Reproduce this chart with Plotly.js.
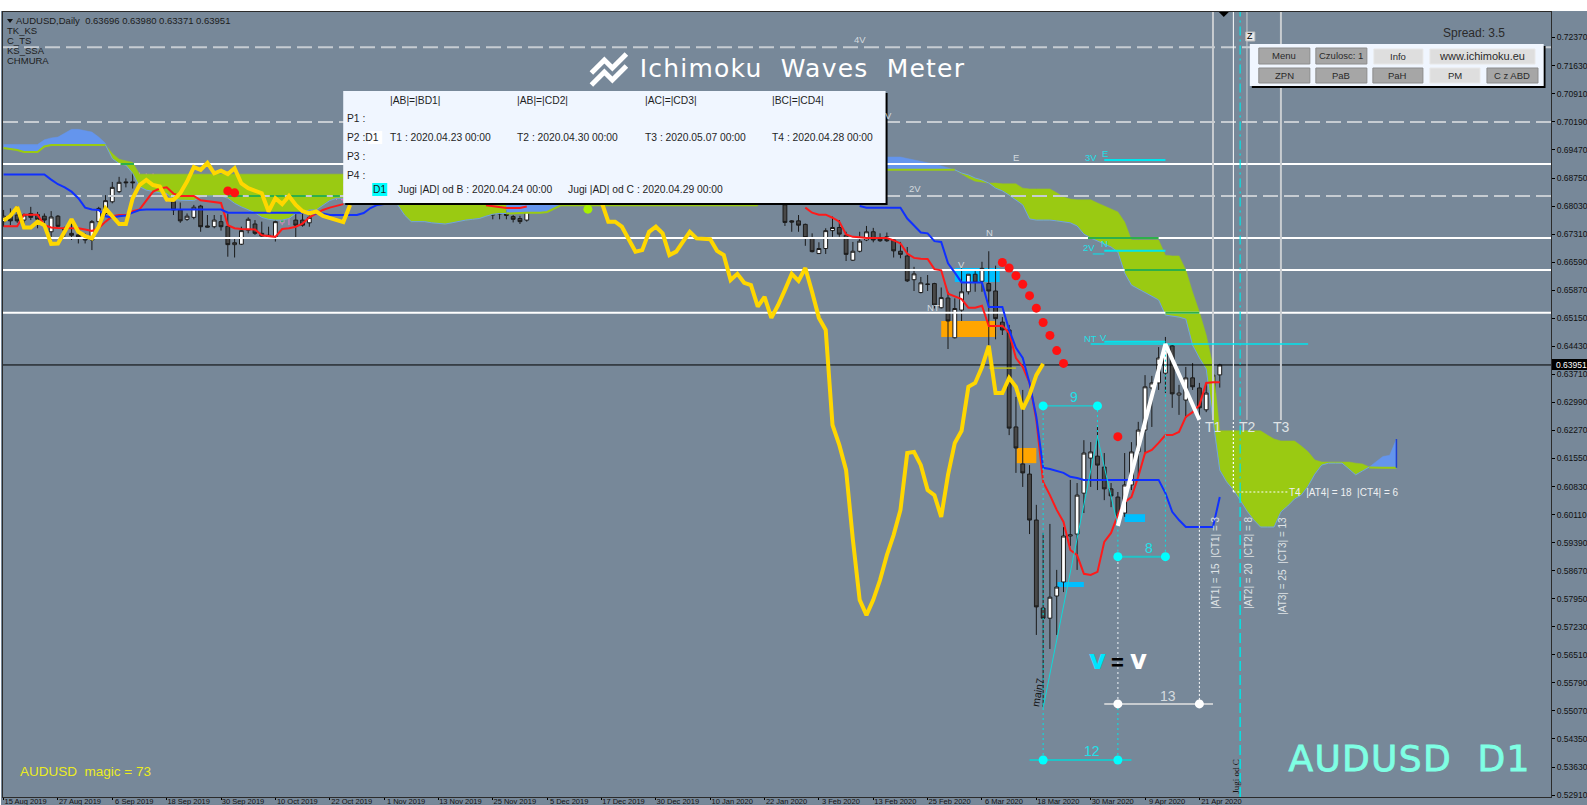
<!DOCTYPE html>
<html><head><meta charset="utf-8">
<script src="https://cdn.plot.ly/plotly-3.0.1.min.js"></script>
<style>html,body{margin:0;padding:0;background:#fff;overflow:hidden}
#c{position:absolute;left:1px;top:11px;width:1586px;height:794px}</style></head>
<body><div id="c"></div>
<script>
// ---- axis labels
const priceTicks=[0.7237,0.7163,0.7091,0.7019,0.6947,0.6875,0.6803,0.6731,0.6659,0.6587,0.6515,0.6443,0.6371,0.6299,0.6227,0.6155,0.6083,0.6011,0.5939,0.5867,0.5795,0.5723,0.5651,0.5579,0.5507,0.5435,0.5363,0.5291];
const dateTicks=['15 Aug 2019','27 Aug 2019','6 Sep 2019','18 Sep 2019','30 Sep 2019','10 Oct 2019','22 Oct 2019','1 Nov 2019','13 Nov 2019','25 Nov 2019','5 Dec 2019','17 Dec 2019','30 Dec 2019','10 Jan 2020','22 Jan 2020','3 Feb 2020','13 Feb 2020','25 Feb 2020','6 Mar 2020','18 Mar 2020','30 Mar 2020','9 Apr 2020','21 Apr 2020'];
const seq=(a,b)=>{const r=[];for(let i=a;i<=b;i++)r.push(i);return r;};

// ---- candles (bar number, open, high, low, close)
const barX=[...seq(0,19),...seq(25,40),43,44,45,...seq(65,77),...seq(115,179)];
const barO=[.6763,.6777,.6780,.6767,.6784,.6781,.6777,.6737,.6777,.6746,.6733,.6729,.6724,.6716,.6763,.6784,.6814,.6840,.6865,.6865,
.6814,.6793,.6769,.6774,.6803,.6752,.6750,.6763,.6751,.6704,.6705,.6741,.6757,.6733,.6728,.6724,.6767,.6767,.6760,
.6825,.6789,.6825,.6815,.6820,.6803,.6815,.6791,.6786,.6786,.6776,.6771,.6767,
.6806,.6765,.6765,.6756,.6722,.6681,.6694,.6740,.6748,.6728,.6664,.6687,.6716,.6737,.6721,.6724,.6716,.6687,.6675,.6614,.6581,.6603,.6604,.6542,.6567,.6465,.6536,.6583,.6628,.6610,.6604,.6585,
.6505,.6485,.6236,.6141,.6115,.5997,.5771,.5745,.5802,.5838,.5956,.5961,.6066,.6156,.6161,.6133,.6077,.6056,.6015,.6087,.6172,.6228,.6336,.6349,.6374,.6444,.6318,.6305,.6362,.6336,.6280,.6323,.63696];
const barH=[.6793,.6797,.6803,.6784,.6801,.6788,.6784,.6790,.6780,.6750,.6767,.6737,.6733,.6767,.6801,.6831,.6865,.6878,.6874,.6889,
.6823,.6812,.6784,.6806,.6806,.6780,.6780,.6780,.6784,.6720,.6750,.6774,.6767,.6763,.6750,.6775,.6784,.6784,.6780,
.6830,.6825,.6830,.6825,.6825,.6815,.6820,.6801,.6797,.6793,.6780,.6778,.6815,
.6815,.6767,.6780,.6758,.6733,.6710,.6746,.6776,.6767,.6737,.6711,.6737,.6752,.6747,.6733,.6735,.6721,.6711,.6698,.6647,.6621,.6626,.6606,.6594,.6583,.6566,.6643,.6628,.6636,.6660,.6687,.6650,
.6518,.6498,.6313,.6331,.6138,.6036,.5964,.5987,.5869,.5979,.6100,.6092,.6202,.6197,.6236,.6169,.6092,.6069,.6169,.6197,.6249,.6369,.6367,.6441,.6467,.6446,.6344,.6390,.6400,.6349,.6349,.6408,.63980];
const barL=[.6750,.6754,.6760,.6754,.6767,.6746,.6750,.6712,.6750,.6724,.6716,.6707,.6707,.6690,.6754,.6775,.6810,.6836,.6851,.6848,
.6780,.6760,.6765,.6769,.6737,.6748,.6746,.6740,.6673,.6671,.6703,.6733,.6729,.6723,.6723,.6712,.6723,.6750,.6750,
.6793,.6789,.6801,.6789,.6800,.6789,.6789,.6769,.6769,.6769,.6761,.6757,.6763,
.6752,.6737,.6737,.6701,.6684,.6680,.6680,.6724,.6724,.6662,.6662,.6684,.6713,.6710,.6711,.6711,.6671,.6669,.6608,.6585,.6579,.6585,.6540,.6540,.6436,.6463,.6508,.6576,.6583,.6583,.6446,.6461,
.6472,.6215,.6118,.6082,.5961,.5702,.5517,.5666,.5702,.5812,.5930,.5869,.6015,.6082,.6074,.6048,.6030,.6005,.6005,.6074,.6108,.6169,.6236,.6331,.6323,.6285,.6267,.6259,.6331,.6262,.6274,.6280,.63371];
const barC=[.6777,.6765,.6765,.6780,.6774,.6769,.6767,.6775,.6751,.6741,.6728,.6724,.6716,.6763,.6797,.6817,.6851,.6864,.6863,.6863,
.6793,.6765,.6777,.6800,.6750,.6749,.6767,.6750,.6704,.6709,.6740,.6769,.6733,.6726,.6724,.6763,.6754,.6754,.6774,
.6793,.6820,.6801,.6810,.6810,.6791,.6808,.6780,.6783,.6779,.6769,.6763,.6805,
.6761,.6762,.6754,.6722,.6686,.6694,.6740,.6748,.6731,.6679,.6687,.6713,.6737,.6716,.6714,.6714,.6688,.6679,.6611,.6629,.6606,.6602,.6549,.6568,.6508,.6540,.6583,.6628,.6607,.6643,.6585,.6514,
.6485,.6233,.6182,.6118,.5997,.5774,.5745,.5799,.5825,.5956,.5959,.6061,.6169,.6172,.6138,.6077,.6059,.6007,.6087,.6172,.6228,.6339,.6349,.6413,.6446,.6321,.6323,.6362,.6339,.6285,.6323,.6369,.63951];
// signal-coloured candles
const magX=[20,21,22,23,24,42,48,49,50];
const magO=[.6870,.6870,.6870,.6868,.6865,.6777,.6857,.6848,.6855];
const magH=[.6889,.6887,.6887,.6874,.6870,.6797,.6880,.6865,.6861];
const magL=[.6857,.6861,.6857,.6857,.6814,.6754,.6854,.6819,.6814];
const magC=[.6864,.6878,.6865,.6866,.6836,.6788,.6870,.6844,.6819];
const grnX=[41,45,46,47];
const grnO=[.6760,.6790,.6823,.6846];
const grnH=[.6806,.6835,.6865,.6880];
const grnL=[.6754,.6780,.6819,.6844];
const grnC=[.6793,.6827,.6857,.6870];

// ---- lines
const redLeft=[.6751,.6751,.6751,.6781,.6781,.6781,.6754,.6748,.6747,.6747,.6747,.6746,.6743,.6739,.6746,.6763,.6777,.6780,.6780,.6790,.6794,.6818,.6840,.6848,.6851,.6835,.6829,.6829,.6829,.6818,.6816,.6814,.6811,.6754,.6746,.6744,.6743,.6743,.6728,.6726,.6724,.6744,.6746,.6750,.6758,.6774,.6784,.6793,.6799,.6803,.6808];
const redMid=[.6805,.6803,.6800,.6798,.6798,.6798,.6802];
const redRight=[.6799,.6786,.6781,.6781,.6773,.6763,.6730,.6724,.6723,.6721,.6721,.6721,.6721,.6715,.6707,.6681,.6670,.6668,.6667,.6641,.6638,.6578,.6572,.6564,.6542,.6542,.6547,.6495,.6495,.6496,.6477,.6413,.6390,.6349,.6254,.6095,.6061,.6023,.5992,.5920,.5907,.5859,.5856,.5864,.5941,.5964,.6010,.6043,.6056,.6108,.6169,.6177,.6195,.6215,.6215,.6223,.6262,.6274,.6292,.6349,.6351,.6351];
const blueLeft=[.6884,.6884,.6884,.6884,.6884,.6884,.6884,.6871,.6859,.6851,.6840,.6823,.6799,.6794,.6793,.6777,.6774,.6777,.6779,.6786,.6793,.6794,.6794,.6794,.6794,.6794,.6794,.6794,.6794,.6794,.6794,.6794,.6794,.6786,.6786,.6786,.6786,.6786,.6786,.6786,.6786,.6786,.6786,.6786,.6786,.6784,.6784,.6784,.6780,.6780,.6780,.6780,.6780,.6785,.6798,.6806,.6808];
const blueRight=[.6803,.6799,.6799,.6799,.6799,.6799,.6799,.6771,.6754,.6735,.6733,.6713,.6711,.6656,.6632,.6607,.6607,.6607,.6607,.6544,.6544,.6544,.6485,.6439,.6413,.6349,.6262,.6131,.6128,.6123,.6118,.6108,.6105,.6100,.6100,.6100,.6100,.6100,.6100,.6100,.6100,.6100,.6100,.6100,.6100,.6066,.6018,.5997,.5979,.5979,.5979,.5979,.5979,.6056];
const chikouLeft=[.6766,.6778,.6800,.6748,.6748,.6763,.6754,.6706,.6707,.6737,.6769,.6737,.6726,.6720,.6750,.6797,.6778,.6757,.6757,.6823,.6857,.6870,.6857,.6853,.6820,.6819,.6836,.6866,.6903,.6896,.6914,.6887,.6894,.6885,.6900,.6861,.6849,.6843,.6836,.6789,.6823,.6808,.6829,.6806,.6790,.6784,.6789,.6778,.6772,.6767,.6762,.6806];
const chikouRight=[.6850,.6814,.6763,.6763,.6750,.6720,.6686,.6690,.6737,.6750,.6733,.6677,.6686,.6712,.6737,.6720,.6718,.6718,.6688,.6677,.6613,.6629,.6606,.6600,.6545,.6570,.6516,.6549,.6588,.6629,.6611,.6644,.6582,.6516,.6485,.6241,.6190,.6125,.5946,.5792,.5753,.5792,.5843,.5907,.5959,.6023,.6169,.6172,.6138,.6074,.6061,.6005,.6113,.6195,.6226,.6339,.6349,.6390,.6444,.6323,.6323,.6362,.6339,.6282,.6318,.6369,.6398];

// ---- cloud
const cloudBlue1Up=[.6961,.6961,.6961,.6961,.6961,.6961,.6973,.6978,.6980,.6991,.7000,.7000,.6996,.6993,.6980,.6964];
const cloudBlue1Lo=[.6952,.6949,.6947,.6942,.6942,.6942,.6956,.6960,.6960,.6960,.6960,.6960,.6960,.6960,.6960,.6960];
const cloudGreen1Up=[.6960,.6938,.6923,.6918,.6915,.6885,.6885,.6885,.6885,.6885,.6885,.6885,.6885,.6885,.6885,.6885,.6885,.6885,.6885,.6885,.6885,.6885,.6885,.6885,.6885,.6885,.6885,.6885,.6885,.6885,.6885,.6885,.6885,.6885,.6885,.6885];
const cloudGreen1Lo=[.6960,.6925,.6912,.6908,.6887,.6853,.6844,.6840,.6837,.6835,.6820,.6818,.6817,.6817,.6827,.6829,.6829,.6829,.6823,.6810,.6801,.6793,.6786,.6774,.6769,.6767,.6767,.6771,.6784,.6786,.6793,.6793,.6805,.6817,.6823,.6823];
const cloudGreen2Lo=[.6806,.6780,.6763,.6763,.6763,.6760,.6758,.6757,.6760,.6764,.6767,.6769,.6771,.6777,.6782,.6784,.6784];
const cloudBlue2Lo=[.6784,.6785,.6786,.6786,.6786,.6786,.6788,.6797,.6805];
const cloudHiddenTop=0.6812;
const cloudThinLo=0.6803;
const cloudBlue3Up=[.6929,.6929,.6929,.6929,.6929,.6925,.6921,.6918,.6914,.6911,.6906,.6901,.6896];
const cloudBlue3Lo=0.6896;
const cloudGreen3Up=[.6896,.6885,.6875,.6867,.6865,.6862,.6862,.6860,.6860,.6860,.6849,.6847,.6847,.6847,.6847,.6837,.6826,.6821,.6819,.6819,.6819,.6811,.6803,.6795,.6788,.6762,.6716,.6716,.6716,.6716,.6716,.6677,.6675,.6675,.6639,.6582,.6531,.6472,.6392,.6226,.6226,.6226,.6226,.6226,.6226,.6226,.6215,.6205,.6200,.6200,.6200,.6187,.6172,.6151,.6146,.6146,.6146,.6146,.6146,.6143,.6141,.6133];
const cloudGreen3Lo=[.6896,.6888,.6883,.6875,.6870,.6862,.6849,.6842,.6831,.6819,.6806,.6770,.6767,.6767,.6767,.6765,.6762,.6760,.6752,.6731,.6721,.6713,.6706,.6698,.6685,.6631,.6600,.6590,.6580,.6572,.6562,.6523,.6521,.6518,.6513,.6446,.6413,.6385,.6254,.6125,.6095,.6074,.6048,.6020,.5997,.5979,.5979,.5979,.6018,.6033,.6051,.6061,.6084,.6115,.6138,.6143,.6143,.6143,.6128,.6113,.6123,.6133];
const cloudBlue4Up=[.6133,.6146,.6160,.6163,.6205];
const cloudBlue4Lo=[.6132,.6131,.6131,.6131,.6131];

// ---- levels and markers
const solidLevels=[.6911,.6721,.6639,.6529];
const dashedLevels=[.7211,.7019,.6829];
const lastPrice=0.63951;
const redDotX=[33,34,147,148,149,150,151,152,153,154,155,156,164];
const redDotY=[.6842,.6837,.6658,.6644,.6624,.6602,.6573,.6541,.6504,.6471,.6432,.6399,.6211];
const limeDotX=[86], limeDotY=[.6795];
const zoneBlue=[[140,146.6,.6608,.6644],[165,168,.5992,.6012],[155.1,159,.5825,.5838]];
const zoneOrange=[[138,146.1,.6467,.6508],[149.1,152,.6143,.6182]];
const waveX=[164,171,176], waveY=[.5982,.6449,.6254];
const mainX=[153,161,164], mainY=[.5515,.6210,.5982];

// ---- plot geometry
const L=3,R=1550,T=12,B=797;
const xr=[-0.088,227.75], yr=[0.52860,0.73012];
const X=p=>(p-L)/(R-L), Y=p=>(B-p)/(B-T);
const TOP=yr[1], BOT=yr[0];

const traces=[], shapes=[], ann=[];
const line=(x,y,color,width,dash)=>traces.push({type:'scatter',mode:'lines',x,y,line:{color,width,dash:dash||'solid',shape:'linear'},hoverinfo:'skip'});
const poly=(xs,up,lo,fill,edge)=>{
  const xx=[...xs,...xs.slice().reverse()], yy=[...up,...lo.slice().reverse()];
  traces.push({type:'scatter',mode:'lines',x:xx,y:yy,fill:'toself',fillcolor:fill,line:{color:fill,width:0.5},hoverinfo:'skip'});
  if(edge) traces.push({type:'scatter',mode:'lines',x:xs,y:lo,line:{color:edge,width:1},hoverinfo:'skip'});
};
const GREEN='#9aca12', BLUE='#6495ed', EDGE='#6f9fe8';
const fillN=(n,v)=>Array(n).fill(v);

// cloud
poly(seq(0,15),cloudBlue1Up,cloudBlue1Lo,BLUE);
line(seq(0,15),cloudBlue1Lo,GREEN,2);
poly(seq(15,50),cloudGreen1Up,cloudGreen1Lo,GREEN,EDGE);
poly(seq(58,74),fillN(17,cloudHiddenTop),cloudGreen2Lo,GREEN,EDGE);
poly(seq(74,82),fillN(9,cloudHiddenTop),cloudBlue2Lo,BLUE);
line(seq(74,82),cloudBlue2Lo,GREEN,2);
poly(seq(82,111),fillN(30,cloudHiddenTop),fillN(30,cloudThinLo),GREEN);
poly(seq(128,140),cloudBlue3Up,fillN(13,cloudBlue3Lo),BLUE);
line(seq(128,140),fillN(13,cloudBlue3Lo),GREEN,2);
poly(seq(140,201),cloudGreen3Up,cloudGreen3Lo,GREEN,EDGE);
poly(seq(201,205),cloudBlue4Up,cloudBlue4Lo,BLUE);
line(seq(201,205),cloudBlue4Lo,GREEN,2);
line([205,205],[cloudBlue4Lo[4],cloudBlue4Up[4]],'#1f3fd0',1.5);

// horizontal levels
dashedLevels.forEach(v=>line(xr,[v,v],'#c6ccd2',2,'15px,6px'));
solidLevels.forEach(v=>line(xr,[v,v],'#ffffff',2));
// levels seen through the cloud
const DG='#2db04a';
line([17.2,19.2],[.6911,.6911],DG,2);
line([33,49.5],[.6829,.6829],DG,2,'15px,6px');
line([159.6,170],[.6721,.6721],DG,2);
line([165,174],[.6639,.6639],DG,2);
line([171,176],[.6529,.6529],DG,2);
// last price
line(xr,[lastPrice,lastPrice],'#000000',1);

// vertical time lines
line([178,178],[.6254,TOP],'#c8ccd0',2);
line([183,183],[.6254,TOP],'#c8ccd0',1);
line([188,188],[.6254,TOP],'#c8ccd0',2);
line([181,181],[.6254,TOP],'#ffffff',1);
line([181,181],[.6069,.6254],'#ffffff',1.2,'2px,2px');
line([181,189],[.6069,.6069],'#ffffff',1.2,'2px,2px');
line([182,182],[BOT,.6070],'#00e5e5',1.5,'10px,4px');
line([182,182],[.6070,TOP],'#00e5e5',1.2,'9px,4px,2px,4px');

// candles
traces.push({type:'candlestick',x:magX,open:magO,high:magH,low:magL,close:magC,whiskerwidth:0,hoverinfo:'skip',
  increasing:{line:{color:'#e27fc8',width:1},fillcolor:'#c84fd0'},decreasing:{line:{color:'#e27fc8',width:1},fillcolor:'#c84fd0'}});
traces.push({type:'candlestick',x:grnX,open:grnO,high:grnH,low:grnL,close:grnC,whiskerwidth:0,hoverinfo:'skip',
  increasing:{line:{color:'#d98ab8',width:1},fillcolor:'#2fb06a'},decreasing:{line:{color:'#d98ab8',width:1},fillcolor:'#2fb06a'}});
traces.push({type:'candlestick',x:barX,open:barO,high:barH,low:barL,close:barC,whiskerwidth:0,hoverinfo:'skip',
  increasing:{line:{color:'#1a1a1a',width:1},fillcolor:'#ffffff'},decreasing:{line:{color:'#1a1a1a',width:1},fillcolor:'#484848'}});

// small cyan/olive lines
line([145,149],[.6387,.6387],'#c0c020',1.5);
line([162,171],[.6455,.6455],'#00e5ee',2);
line([160,192],[.6449,.6449],'#00e5ee',1.5);
line([162,171],[.6921,.6921],'#00e5ee',2);
line([160.3,162],[.6680,.6680],'#00e5ee',1);
line([162,171],[.6688,.6688],'#00e5ee',2);

// ichimoku lines
line(seq(0,50),redLeft,'#ff1a1a',2);
line(seq(71,77),redMid,'#ff1a1a',2);
line(seq(118,179),redRight,'#ff1a1a',2);
line(seq(0,56),blueLeft,'#1030ff',2);
line(seq(126,179),blueRight,'#1030ff',2);
line(seq(0,51),chikouLeft,'#ffd700',4);
line(seq(87,153),chikouRight,'#ffd700',4);

// measurement lines
const AQ='#00e5e5';
line([153,153],[.5381,.6290],AQ,1,'2px,3px');
line([161,161],[.6210,.6290],AQ,1,'2px,3px');
line([171,171],[.5903,.6449],AQ,1,'2px,3px');
line([164,164],[.5903,.5982],AQ,1,'2px,3px');
line([164,164],[.5525,.5903],'#c8d0d8',1.5,'2px,3px');
line([164,164],[.5381,.5525],AQ,1,'2px,3px');
line([176,176],[.5525,.6254],'#ffffff',1,'2px,2px');
line(mainX,mainY,'#10d8d8',1);
line(waveX,waveY,'#ffffff',4);
line([153,161],[.6290,.6290],AQ,1);
line([164,171],[.5903,.5903],'#20c4c8',2);
line([151,166],[.5381,.5381],'#20c4c8',2);
line([162,178],[.5525,.5525],'#c8ccd0',2);
const dots=(x,y,c,s)=>traces.push({type:'scatter',mode:'markers',x,y,marker:{color:c,size:s,line:{width:0}},hoverinfo:'skip'});
dots([153,161],[.6290,.6290],'#00ffff',9);
dots([164,171],[.5903,.5903],'#00ffff',9);
dots([153,164],[.5381,.5381],'#00ffff',9);
dots([164,176],[.5525,.5525],'#ffffff',9);
dots(redDotX,redDotY,'#ff1212',9);
dots(limeDotX,limeDotY,'#a8f000',9);

// zones
zoneBlue.forEach(z=>shapes.push({type:'rect',layer:'below',x0:z[0],x1:z[1],y0:z[2],y1:z[3],fillcolor:'#00bfff',line:{width:0}}));
zoneOrange.forEach(z=>shapes.push({type:'rect',layer:'below',x0:z[0],x1:z[1],y0:z[2],y1:z[3],fillcolor:'#ffa500',line:{width:0}}));

// pixel-placed interface boxes
const box=(x0,y0,x1,y1,fill,lc)=>shapes.push({type:'rect',xref:'paper',yref:'paper',x0:X(x0),x1:X(x1),y0:Y(y1),y1:Y(y0),fillcolor:fill,line:lc?{color:lc,width:1}:{width:0},layer:'above'});
// logo
const logoPath=(pts)=>pts.map((p,i)=>(i?'L':'M')+X(p[0])+','+Y(p[1])).join(' ');
[[[591,73],[604,60],[612,68],[626,54]],[[591,85],[604,72],[612,80],[626,66]]].forEach(p=>shapes.push({type:'path',xref:'paper',yref:'paper',path:logoPath(p),line:{color:'#ffffff',width:5},layer:'above'}));
// info panel
box(345,93,887,205,'#000000');
box(343,91,885,203,'#f0f6ff');
box(372,183,387,196,'#00ffff');
box(368,131,382,144,'#ffffff');
// button panel
box(1251,46,1544.5,88,'#000000');
box(1249,44,1542.7,86,'#f0f6ff');
const btn=[['Menu',1258,48,1309,64,1],['Czulosc: 1',1315,48,1366,64,1],['Info',1373,49,1422,64,0],['www.ichimoku.eu',1429,49,1534,64,0],
['ZPN',1258,68,1309,83,1],['PaB',1315,68,1366,83,1],['PaH',1372,68,1422,83,1],['PM',1429,68,1479,83,0],['C z ABD',1486,68,1537,83,1]];
btn.forEach(b=>box(b[1],b[2],b[3],b[4],b[5]?'#a6a6a6':'#dedede',b[5]?'#8c8c8c':'#e8e8e8'));
box(1245,32,1254,41,'#e8e8e8','#c0c0c0');
// top triangle
shapes.push({type:'path',xref:'paper',yref:'paper',path:logoPath([[1218,12],[1228,12],[1223,17]])+' Z',fillcolor:'#000',line:{width:0},layer:'above'});
shapes.push({type:'path',xref:'paper',yref:'paper',path:logoPath([[7,19],[13,19],[10,23]])+' Z',fillcolor:'#111',line:{width:0},layer:'above'});

const F='"Liberation Sans",Arial,sans-serif';
const tp=(text,x,y,size,color,anchor,extra)=>ann.push(Object.assign({xref:'paper',yref:'paper',x:X(x),y:Y(y),text,showarrow:false,
  xanchor:anchor||'left',yanchor:'middle',font:{family:F,size,color},borderpad:0,borderwidth:0},extra||{}));
// header
tp('AUDUSD,Daily  0.63696 0.63980 0.63371 0.63951',16,21,9.5,'#1c1c1c');
tp('TK_KS',7,31,9.5,'#1c1c1c');tp('C_TS',7,41,9.5,'#1c1c1c');tp('KS_SSA',7,51,9.5,'#1c1c1c');tp('CHMURA',7,61,9.5,'#1c1c1c');
tp('AUDUSD  magic = 73',20,771,13.5,'#ecec1e');
tp('Ichimoku&nbsp;&nbsp;Waves&nbsp;&nbsp;Meter',653,69,25,'#ffffff','left',{font:{family:'"DejaVu Sans"',size:25,color:'#ffffff'}});
tp('AUDUSD&nbsp;&nbsp;D1',1294,758,36,'#7fffe4','left',{font:{family:'"DejaVu Sans"',size:36,color:'#7fffe4'}});
// info panel text
const P='#1f1f1f', PS=10.3;
[['|AB|=|BD1|',390],['|AB|=|CD2|',517],['|AC|=|CD3|',645],['|BC|=|CD4|',772]].forEach(t=>tp(t[0],t[1],101,PS,P));
tp('P1 :',347,119,PS,P);tp('P2 :D1',347,138,PS,P);tp('P3 :',347,157,PS,P);tp('P4 :',347,176,PS,P);
[['T1 : 2020.04.23 00:00',390],['T2 : 2020.04.30 00:00',517],['T3 : 2020.05.07 00:00',645],['T4 : 2020.04.28 00:00',772]].forEach(t=>tp(t[0],t[1],138,PS,P));
tp('D1',373,190,PS,P);
tp('Jugi |AD| od B : 2020.04.24 00:00',398,190,PS,P);
tp('Jugi |AD| od C : 2020.04.29 00:00',568,190,PS,P);
// buttons
btn.forEach(b=>tp(b[0],(b[1]+b[3])/2,(b[2]+b[4])/2,b[0].startsWith('www')?11:9.5,'#2a2a2a','center'));
tp('Spread: 3.5',1473,33,12,'#2a2a2a','center');
tp('Z',1249.5,36.5,9,'#000','center');
// labels on the chart
const G='#d4dadf', C2='#1ee0e8';
[['4V',859,40,G],['V',888,116,G],['E',1015,158,G],['2V',914,189,G],['N',989,232,G],['V',961,264,G],['NT',933,307,G],
 ['3V',1090,158,C2],['E',1104,154,C2],['2V',1088,247,C2],['N',1104,243,C2],['NT',1090,338,C2],['V',1103,337,C2]]
 .forEach(t=>tp(t[0],t[1],t[2],9.5,t[3],'center'));
tp('T1',1213,427,14,'#dfe3e6','center');tp('T2',1247,427,14,'#dfe3e6','center');tp('T3',1281,427,14,'#dfe3e6','center');
tp('T4  |AT4| = 18  |CT4| = 6',1288,492,10,'#eef0f2');
const rot=(text,x,yb,size,color)=>tp(text,x,yb,size,color,'center',{yanchor:'bottom',textangle:-90});
rot('|AT1| = 15  |CT1| = 3',1214,609,10,'#dfe3e6');
rot('|AT2| = 20  |CT2| = 8',1247,609,10,'#dfe3e6');
rot('|AT3| = 25  |CT3| = 13',1281,615,10,'#dfe3e6');
tp('Jugi od C',1235,776,8.5,'#111','center',{textangle:-90,font:{family:'"Liberation Serif"',size:9,color:'#111'}});
tp('main7',1037,692,10.5,'#111','center',{textangle:-80,font:{family:F,size:10.5,color:'#111'}});
tp('9',1073,397,14,C2,'center');
tp('8',1148,548,14,C2,'center');
tp('12',1091,751,14,C2,'center');
tp('13',1167,696,14,'#d4dadf','center');
const B2={family:'"DejaVu Sans"',size:26};
tp('<b>v</b>',1097,660,26,'#00e5ff','center',{font:Object.assign({color:'#00e5ff'},B2)});
tp('<b>=</b>',1117,662,22,'#000','center');
tp('<b>v</b>',1138,660,26,'#ffffff','center',{font:Object.assign({color:'#ffffff'},B2)});
// current price tag
box(1551,359,1587,370,'#000000');
tp('0.63951',1555,364.5,8.5,'#ffffff');

const layout={width:1586,height:794,margin:{l:2,r:36,t:1,b:8,pad:0},paper_bgcolor:'#778899',plot_bgcolor:'#778899',showlegend:false,dragmode:false,boxgap:0.2,boxmode:'overlay',
 xaxis:{range:xr,type:'linear',showgrid:false,zeroline:false,tickmode:'array',tickvals:seq(0,22).map(i=>i*8),ticktext:dateTicks,ticks:'outside',ticklen:2,tickcolor:'#000',tickwidth:1,
   showline:true,linecolor:'#2b2b2b',linewidth:1,mirror:true,ticklabelshift:22,ticklabelstandoff:-5,tickfont:{family:F,size:7.5,color:'#111'},automargin:false,rangeslider:{visible:false},fixedrange:true,tickangle:0},
 yaxis:{range:yr,side:'right',showgrid:false,zeroline:false,tickmode:'array',tickvals:priceTicks,ticktext:priceTicks.map(v=>v.toFixed(5)),ticks:'outside',ticklen:3,tickcolor:'#000',tickwidth:1,
   showline:true,linecolor:'#2b2b2b',linewidth:1,mirror:true,tickfont:{family:F,size:8.5,color:'#111'},automargin:false,fixedrange:true},
 shapes,annotations:ann,font:{family:F}};
Plotly.newPlot('c',traces,layout,{displayModeBar:false,staticPlot:true}).then(()=>{
  document.querySelectorAll('.annotation-text').forEach(t=>{
    const s=t.textContent;
    if(s.startsWith('Ichimoku')) t.style.letterSpacing='1.2px';
    if(s.startsWith('AUDUSD') && s.endsWith('D1')){t.style.letterSpacing='1.3px';t.style.stroke='#7fffe4';t.style.strokeWidth='0.8px';}
  });
});
</script></body></html>
